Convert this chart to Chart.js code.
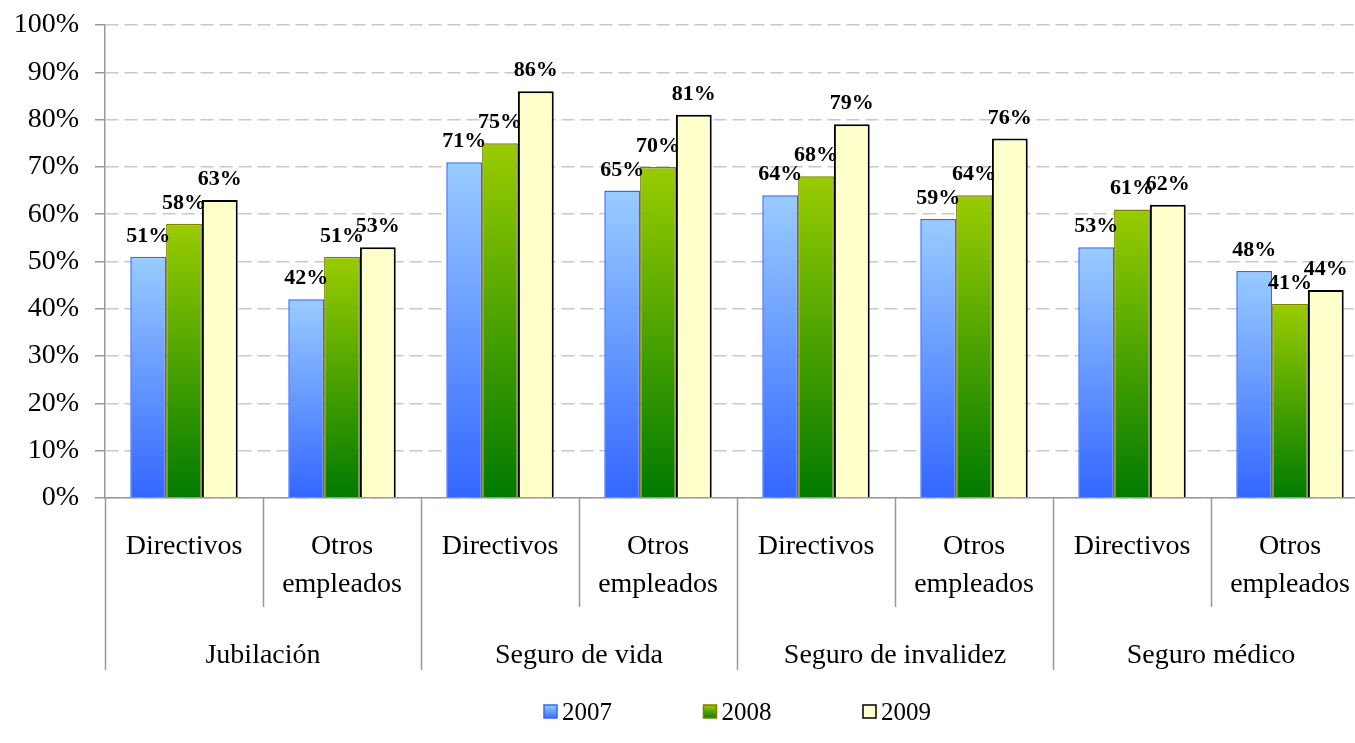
<!DOCTYPE html>
<html>
<head>
<meta charset="utf-8">
<script src="https://cdn.jsdelivr.net/npm/chart.js@4.4.1/dist/chart.umd.min.js"></script>
<style>
    html, body { margin: 0; background: #fff; overflow: hidden; }
    #wrap { width: 1370px; height: 743px; position: relative; }
</style>
</head>
<body>
<div id="wrap"><canvas id="chart"></canvas></div>
<script>
const categories = [
    ['Directivos'], ['Otros', 'empleados'],
    ['Directivos'], ['Otros', 'empleados'],
    ['Directivos'], ['Otros', 'empleados'],
    ['Directivos'], ['Otros', 'empleados']
];
const groups = ['Jubilación', 'Seguro de vida', 'Seguro de invalidez', 'Seguro médico'];
const years = ['2007', '2008', '2009'];
const values2007 = [51, 42, 71, 65, 64, 59, 53, 48];
const values2008 = [58, 51, 75, 70, 68, 64, 61, 41];
const values2009 = [63, 53, 86, 81, 79, 76, 62, 44];
const yTicks = [0, 10, 20, 30, 40, 50, 60, 70, 80, 90, 100];

const SERIF = '"Liberation Serif", "Times New Roman", serif';

// degradado vertical por barra (claro arriba, oscuro abajo)
function gradientFill(light, dark) {
    return function (ctx) {
        const chart = ctx.chart;
        if (!chart.chartArea || ctx.type !== 'data') return dark;
        const y = chart.scales.y;
        const yTop = y.getPixelForValue(ctx.raw);
        const yBase = y.getPixelForValue(0);
        if (!isFinite(yTop) || yBase - yTop < 1) return dark;
        const g = chart.ctx.createLinearGradient(0, yTop, 0, yBase);
        g.addColorStop(0, light);
        g.addColorStop(1, dark);
        return g;
    };
}

const seriesStyle = [
    { light: '#99ccff', dark: '#3366ff', border: '#3366ff', width: 1.5 },
    { light: '#99cc00', dark: '#007a00', border: '#7f7f00', width: 1.5 },
    { light: '#ffffcc', dark: '#ffffcc', border: '#000000', width: 2 }
];

// etiquetas de datos encima de cada barra
const dataLabels = {
    id: 'dataLabels',
    afterDatasetsDraw(chart) {
        const ctx = chart.ctx;
        ctx.save();
        ctx.font = 'bold 22px ' + SERIF;
        ctx.fillStyle = '#000';
        ctx.textAlign = 'center';
        ctx.textBaseline = 'alphabetic';
        chart.data.datasets.forEach((ds, i) => {
            const meta = chart.getDatasetMeta(i);
            meta.data.forEach((bar, j) => {
                ctx.fillText(ds.data[j] + '%', bar.x, bar.y - 15);
            });
        });
        ctx.restore();
    }
};

// separadores y etiquetas de grupo bajo el eje x, y leyenda
const groupAxis = {
    id: 'groupAxis',
    afterDraw(chart) {
        const ctx = chart.ctx;
        const area = chart.chartArea;
        const x = chart.scales.x;
        const n = categories.length;
        const step = (area.right - area.left) / n;
        ctx.save();
        ctx.strokeStyle = '#999';
        ctx.lineWidth = 1.5;
        for (let i = 0; i <= n; i++) {
            const px = Math.round(area.left + i * step) + 0.5;
            const len = (i % 2 === 0) ? 172 : 109;
            ctx.beginPath();
            ctx.moveTo(px, area.bottom);
            ctx.lineTo(px, area.bottom + len);
            ctx.stroke();
        }
        ctx.font = '28px ' + SERIF;
        ctx.fillStyle = '#000';
        ctx.textAlign = 'center';
        ctx.textBaseline = 'middle';
        groups.forEach((g, k) => {
            const cx = (x.getPixelForValue(2 * k) + x.getPixelForValue(2 * k + 1)) / 2;
            ctx.fillText(g, cx, area.bottom + 158);
        });

        // leyenda
        const ly = 712;
        const spacing = 159.5;
        let lx = (area.left + area.right) / 2 - 193;
        ctx.font = '25px ' + SERIF;
        ctx.textAlign = 'left';
        years.forEach((yr, i) => {
            const s = seriesStyle[i];
            const g = ctx.createLinearGradient(0, ly - 7, 0, ly + 7);
            g.addColorStop(0, s.light);
            g.addColorStop(1, s.dark);
            ctx.fillStyle = g;
            ctx.fillRect(lx, ly - 7, 13, 13);
            ctx.strokeStyle = s.border;
            ctx.lineWidth = 1.5;
            ctx.strokeRect(lx, ly - 7, 13, 13);
            ctx.fillStyle = '#000';
            ctx.fillText(yr, lx + 18, ly + 1);
            lx += spacing;
        });
        ctx.restore();
    }
};

const allValues = [values2007, values2008, values2009];

new Chart(document.getElementById('chart'), {
    type: 'bar',
    data: {
        labels: categories,
        datasets: years.map((yr, i) => ({
            label: yr,
            data: allValues[i],
            backgroundColor: gradientFill(seriesStyle[i].light, seriesStyle[i].dark),
            borderColor: seriesStyle[i].border,
            borderWidth: seriesStyle[i].width,
            categoryPercentage: 0.68,
            barPercentage: 1
        }))
    },
    options: {
        responsive: true,
        maintainAspectRatio: false,
        animation: false,
        layout: { padding: { top: 25, bottom: 70, left: 0, right: 1 } },
        plugins: {
            legend: { display: false },
            tooltip: { enabled: false }
        },
        scales: {
            x: {
                grid: { display: false, drawTicks: false },
                border: { display: true, color: '#999', width: 1.5 },
                ticks: {
                    color: '#000',
                    font: { family: SERIF, size: 28, lineHeight: 1.35 },
                    padding: 30,
                    maxRotation: 0,
                    autoSkip: false
                },
                afterFit(scale) {
                    scale.height = 175;
                    scale.paddingLeft = 0;
                    scale.paddingRight = 0;
                }
            },
            y: {
                min: 0,
                max: 100,
                afterBuildTicks(scale) { scale.ticks = yTicks.map(v => ({ value: v })); },
                grid: {
                    color: '#c8c8c8',
                    tickLength: 10,
                    tickColor: '#999',
                    tickBorderDash: [1, 0],
                    lineWidth: 1.5
                },
                border: { display: true, color: '#999', width: 1.5, dash: [13, 6] },
                ticks: {
                    color: '#000',
                    font: { family: SERIF, size: 28 },
                    padding: 16,
                    callback: v => v + '%'
                },
                afterFit(scale) {
                    scale.width = 105;
                    scale.paddingTop = 0;
                    scale.paddingBottom = 0;
                }
            }
        }
    },
    plugins: [dataLabels, groupAxis]
});
</script>
</body>
</html>
